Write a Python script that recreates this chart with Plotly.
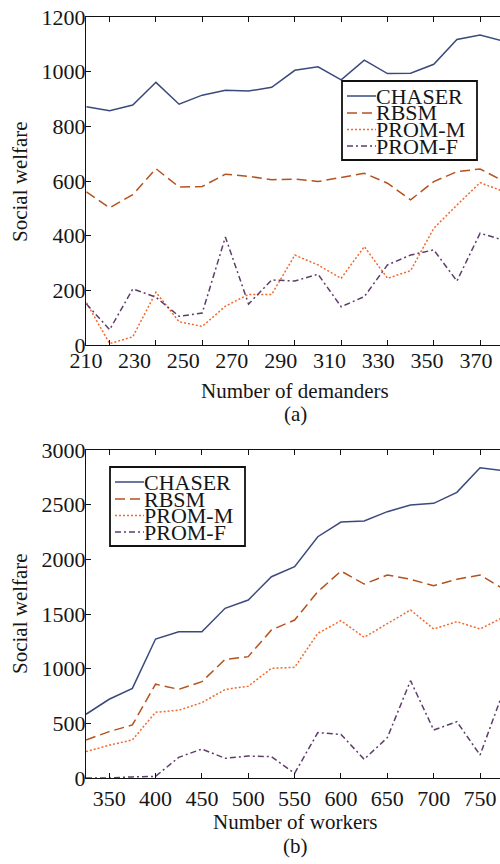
import plotly.graph_objects as go

# ---------------- data ----------------
demanders = [210, 220, 230, 240, 250, 260, 270, 280, 290, 300,
             310, 320, 330, 340, 350, 360, 370, 380, 390]
a_chaser = [872, 857, 878, 961, 881, 914, 932, 929, 943, 1005,
            1018, 970, 1042, 993, 994, 1027, 1118, 1134, 1112]
a_rbsm = [560, 502, 550, 645, 578, 580, 625, 617, 605, 607,
          598, 612, 628, 592, 531, 598, 634, 644, 600]
a_promm = [155, 5, 30, 193, 85, 68, 142, 185, 185, 329,
           293, 244, 360, 244, 272, 427, 512, 594, 562]
a_promf = [150, 56, 205, 175, 105, 117, 395, 150, 238, 234,
           259, 140, 177, 293, 329, 348, 234, 409, 384]
a_tick_marks = [220, 240, 260, 280, 300, 320, 340, 360, 380]
a_tick_labels = ["210", "230", "250", "270", "290", "310", "330", "350", "370"]
a_label_pos = [209.8, 230.8, 251.8, 272.8, 293.9, 315.0, 336.0, 357.1, 378.2]

workers = [325, 350, 375, 400, 425, 450, 475, 500, 525, 550,
           575, 600, 625, 650, 675, 700, 725, 750, 775]
b_chaser = [583, 720, 820, 1271, 1338, 1338, 1552, 1628, 1841, 1933,
            2207, 2341, 2351, 2436, 2497, 2512, 2613, 2838, 2812]
b_rbsm = [348, 424, 485, 858, 811, 881, 1085, 1110, 1354, 1445,
          1704, 1893, 1774, 1857, 1817, 1759, 1817, 1857, 1730]
b_promm = [241, 300, 348, 601, 620, 689, 810, 840, 1003, 1012,
           1323, 1439, 1287, 1415, 1537, 1363, 1430, 1363, 1470]
b_promf = [0, 0, 10, 15, 189, 265, 180, 201, 195, 43,
           415, 399, 171, 369, 890, 439, 515, 210, 790]
b_tick_vals = [350, 400, 450, 500, 550, 600, 650, 700, 750]

series_names = ["CHASER", "RBSM", "PROM-M", "PROM-F"]
colors = ["#3b4a7c", "#b4521f", "#f2692c", "#5e3d6c"]
dashes = ["solid", "10px,5px", "2px,2px", "6px,3px,2px,3px"]

W, H = 500, 864
FONT = "Liberation Serif"
FS_TICK = 22
FS_TITLE = 21
FS_LEG = 22
TXT = "#161616"


def px(x):
    return x / W


def py(y):
    return 1 - y / H


fig = go.Figure()

for vals, name, col, dash in zip([a_chaser, a_rbsm, a_promm, a_promf], series_names, colors, dashes):
    fig.add_trace(go.Scatter(x=demanders, y=vals, mode="lines", name=name, xaxis="x", yaxis="y",
                             line=dict(color=col, width=1.5, dash=dash), showlegend=False))
for vals, name, col, dash in zip([b_chaser, b_rbsm, b_promm, b_promf], series_names, colors, dashes):
    fig.add_trace(go.Scatter(x=workers, y=vals, mode="lines", name=name, xaxis="x2", yaxis="y2",
                             line=dict(color=col, width=1.5, dash=dash), showlegend=False))
# invisible helper trace for the label axis of panel (a)
fig.add_trace(go.Scatter(x=[None], y=[None], xaxis="x3", yaxis="y", showlegend=False, hoverinfo="skip"))

step = 23.18
x_left = 86
a_range = [demanders[0] - 0.2, demanders[0] + 10 * (W - x_left) / step]
b_range = [workers[0], workers[0] + 25 * (W - x_left) / step]

axis_common = dict(showline=True, linecolor="#111", linewidth=1.3, ticks="inside", ticklen=5,
                   tickcolor="#111", tickwidth=1.2, showgrid=False, zeroline=False, automargin=False,
                   tickfont=dict(family=FONT, size=FS_TICK, color=TXT))

fig.update_layout(
    width=W, height=H, margin=dict(l=0, r=0, t=0, b=0, pad=0), autosize=False,
    paper_bgcolor="white", plot_bgcolor="white",
    xaxis=dict(domain=[px(x_left), 1], anchor="y", range=a_range, tickmode="array",
               tickvals=a_tick_marks, showticklabels=False, mirror="ticks", **axis_common),
    xaxis3=dict(domain=[px(x_left), 1], anchor="y", overlaying="x", range=a_range, tickmode="array",
                tickvals=a_label_pos, ticktext=a_tick_labels, ticks="", showline=False,
                showgrid=False, zeroline=False, side="bottom", automargin=False,
                tickfont=dict(family=FONT, size=FS_TICK, color=TXT)),
    yaxis=dict(domain=[py(345), py(17)], anchor="x", range=[0, 1200], tickmode="array",
               tickvals=[0, 200, 400, 600, 800, 1000, 1200], ticklabelstandoff=-5, **axis_common),
    xaxis2=dict(domain=[px(x_left), 1], anchor="y2", range=b_range, tickmode="array",
                tickvals=b_tick_vals, mirror="ticks", **axis_common),
    yaxis2=dict(domain=[py(778), py(450)], anchor="x2", range=[0, 3000], tickmode="array",
                tickvals=[0, 500, 1000, 1500, 2000, 2500, 3000], ticklabelstandoff=-5, **axis_common),
)

annotations = []
shapes = []


def text(x, y, s, size, angle=0, xanchor="center"):
    annotations.append(dict(x=px(x), y=py(y), xref="paper", yref="paper", text=s, showarrow=False,
                            textangle=angle, xanchor=xanchor, yanchor="middle",
                            font=dict(family=FONT, size=size, color=TXT)))


# axis titles / captions
text(20, 182, "Social welfare", FS_TITLE, angle=-90)
text(295, 391, "Number of demanders", FS_TITLE)
text(295, 414, "(a)", FS_TITLE)
text(20, 614, "Social welfare", FS_TITLE, angle=-90)
text(295, 822, "Number of workers", FS_TITLE)
text(295, 846, "(b)", FS_TITLE)


def legend(x0, y0):
    w, h = 135, 79
    shapes.append(dict(type="rect", xref="paper", yref="paper", x0=px(x0), x1=px(x0 + w),
                       y0=py(y0), y1=py(y0 + h), line=dict(color="#111", width=1.8),
                       fillcolor="white", layer="above"))
    offs = [15, 32, 48.5, 65]
    for off, name, col, dash in zip(offs, series_names, colors, dashes):
        yy = y0 + off
        shapes.append(dict(type="line", xref="paper", yref="paper", x0=px(x0 + 5), x1=px(x0 + 34),
                           y0=py(yy), y1=py(yy), line=dict(color=col, width=1.5, dash=dash),
                           layer="above"))
        text(x0 + 32, yy, name, FS_LEG, xanchor="left")


legend(342, 81)
legend(110, 467)

fig.update_layout(annotations=annotations, shapes=shapes)
fig.write_html("out.html", config={"displayModeBar": False},
               post_script="document.body.style.margin='0';")
